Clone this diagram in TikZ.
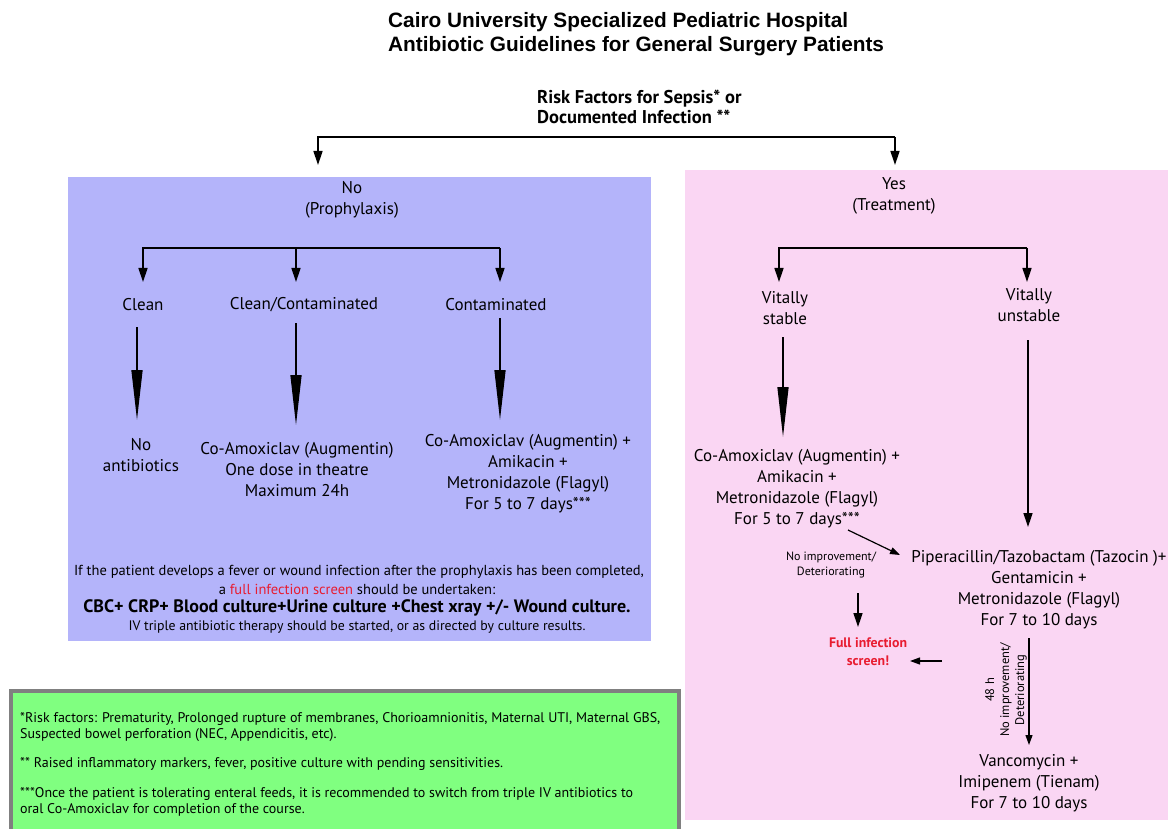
\documentclass[tikz,border=0pt]{standalone}
\usepackage{fontspec}
\setmainfont{PT Sans}
\newfontfamily\titlefont{Liberation Sans}
\usetikzlibrary{arrows.meta,positioning,calc}

\definecolor{prophblue}{RGB}{180,180,250}
\definecolor{treatpink}{RGB}{250,214,243}
\definecolor{notegreen}{RGB}{128,255,128}
\definecolor{notegray}{RGB}{128,128,128}
\definecolor{alertred}{RGB}{232,28,48}

\tikzset{
  txt/.style={align=center,inner sep=0pt,font=\fontsize{17}{21}\selectfont},
  small/.style={align=center,inner sep=0pt,font=\fontsize{12}{15.5}\selectfont},
  info/.style={inner sep=0pt,font=\fontsize{14.5}{17}\selectfont},
  note/.style={anchor=west,align=left,inner sep=0pt,font=\fontsize{14}{16.5}\selectfont},
  arr/.style={line width=1.4pt,-{Triangle[length=14pt,width=9pt]}},
  arrsmall/.style={line width=1.2pt,-{Triangle[length=10pt,width=7pt]}},
  wedge/.style={line width=1.4pt,-{Triangle[length=50pt,width=11pt]}},
}

\begin{document}
\begin{tikzpicture}[x=1pt,y=-1pt]
\useasboundingbox (0,0) rectangle (1168,829);
\fill[prophblue] (68,177) rectangle (651,641);
\fill[treatpink] (685,170) rectangle (1168,820);
\filldraw[fill=notegreen,draw=notegray,line width=4pt] (11,691) rectangle (679,845);

\node[anchor=west,align=left,inner sep=0pt,font=\titlefont\bfseries\fontsize{20.8}{23.5}\selectfont] (title) at (388,34) {Cairo University Specialized Pediatric Hospital\\Antibiotic Guidelines for General Surgery Patients};
\node[anchor=west,align=left,inner sep=0pt,font=\bfseries\fontsize{18.5}{20}\selectfont] (risk) at (537,107) {Risk Factors for Sepsis* or\\Documented Infection **};

\coordinate (splitL) at (318,137);
\coordinate (splitR) at (895,137);
\coordinate (noTip) at (318,165);
\coordinate (yesTip) at (895,165);
\draw[arr] (splitR) -- (splitL) -- (noTip);
\draw[arr] (splitR) -- (yesTip);

\node[txt] (no) at (352,200) {No\\(Prophylaxis)};
\coordinate (cutL) at (143,248);
\coordinate (cutM) at (296,248);
\coordinate (cutR) at (500,248);
\coordinate (cleanTip) at (143,282);
\coordinate (ccTip) at (296,282);
\coordinate (contTip) at (500,282);
\draw[arr] (cutR) -- (cutL) -- (cleanTip);
\draw[arr] (cutM) -- (ccTip);
\draw[arr] (cutR) -- (contTip);

\node[txt] (clean) at (143,305) {Clean};
\node[txt] (cleancont) at (304,305) {Clean/Contaminated};
\node[txt] (contam) at (496,305) {Contaminated};

\coordinate (cleanA) at (137,327);
\coordinate (cleanB) at (137,420);
\coordinate (ccA) at (296,323);
\coordinate (ccB) at (296,425);
\coordinate (contA) at (500,318);
\coordinate (contB) at (500,420);
\draw[wedge] (cleanA) -- (cleanB);
\draw[wedge] (ccA) -- (ccB);
\draw[wedge] (contA) -- (contB);

\node[txt] (noab) at (141,455) {No\\antibiotics};
\node[txt] (ccrx) at (297,470) {Co-Amoxiclav (Augmentin)\\One dose in theatre\\Maximum 24h};
\node[txt] (contrx) at (528,474) {Co-Amoxiclav (Augmentin) +\\Amikacin +\\Metronidazole (Flagyl)\\For 5 to 7 days***};

\node[info] (fever) at (359,572) {If the patient develops a fever or wound infection after the prophylaxis has been completed,};
\node[info] (screen) at (357,589) {a \textcolor{alertred}{full infection screen} should be undertaken:};
\node[info,font=\bfseries\fontsize{18}{20}\selectfont] (tests) at (357,608) {CBC+ CRP+ Blood culture+Urine culture +Chest xray +/- Wound culture.};
\node[info,font=\fontsize{13.8}{16}\selectfont] (ivnote) at (357,627) {IV triple antibiotic therapy should be started, or as directed by culture results.};

\node[txt] (yes) at (894,196) {Yes\\(Treatment)};
\coordinate (forkL) at (779,248);
\coordinate (forkR) at (1027,248);
\coordinate (stableTip) at (779,282);
\coordinate (unstableTip) at (1027,282);
\draw[arr] (forkR) -- (forkL) -- (stableTip);
\draw[arr] (forkR) -- (unstableTip);

\node[txt] (stable) at (785,308) {Vitally\\stable};
\node[txt] (unstable) at (1029,305) {Vitally\\unstable};

\coordinate (stableA) at (783,337);
\coordinate (stableB) at (783,437);
\coordinate (unstableA) at (1028,340);
\coordinate (unstableB) at (1028,527);
\draw[wedge] (stableA) -- (stableB);
\draw[arr] (unstableA) -- (unstableB);

\node[txt] (stablerx) at (797,489) {Co-Amoxiclav (Augmentin) +\\Amikacin +\\Metronidazole (Flagyl)\\For 5 to 7 days***};
\node[txt] (piprx) at (1039,590) {Piperacillin/Tazobactam (Tazocin )+\\Gentamicin +\\Metronidazole (Flagyl)\\For 7 to 10 days};
\node[small] (worse) at (831,565) {No improvement/\\Deteriorating};
\node[align=center,inner sep=0pt,text=alertred,font=\bfseries\fontsize{13.8}{18}\selectfont] (fullscr) at (868,652) {Full infection\\screen!};
\node[small,font=\fontsize{12.5}{15}\selectfont,rotate=90] (wait) at (1006,690) {48 h\\No improvement/\\Deteriorating};
\node[txt] (vanco) at (1029,783) {Vancomycin +\\Imipenem (Tienam)\\For 7 to 10 days};

\coordinate (escA) at (848,530);
\coordinate (escB) at (900,555);
\coordinate (worseA) at (858,593);
\coordinate (worseB) at (858,627);
\coordinate (backA) at (942,661);
\coordinate (backB) at (910,661);
\coordinate (waitA) at (1029,638);
\coordinate (waitB) at (1029,745);
\draw[arrsmall] (escA) -- (escB);
\draw[arr] (worseA) -- (worseB);
\draw[arrsmall] (backA) -- (backB);
\draw[arrsmall] (waitA) -- (waitB);

\node[note] (note1) at (20,727) {*Risk factors: Prematurity, Prolonged rupture of membranes, Chorioamnionitis, Maternal UTI, Maternal GBS,\\Suspected bowel perforation (NEC, Appendicitis, etc).};
\node[note] (note2) at (20,764) {** Raised inflammatory markers, fever, positive culture with pending sensitivities.};
\node[note] (note3) at (20,802) {***Once the patient is tolerating enteral feeds, it is recommended to switch from triple IV antibiotics to\\oral Co-Amoxiclav for completion of the course.};
\end{tikzpicture}
\end{document}
